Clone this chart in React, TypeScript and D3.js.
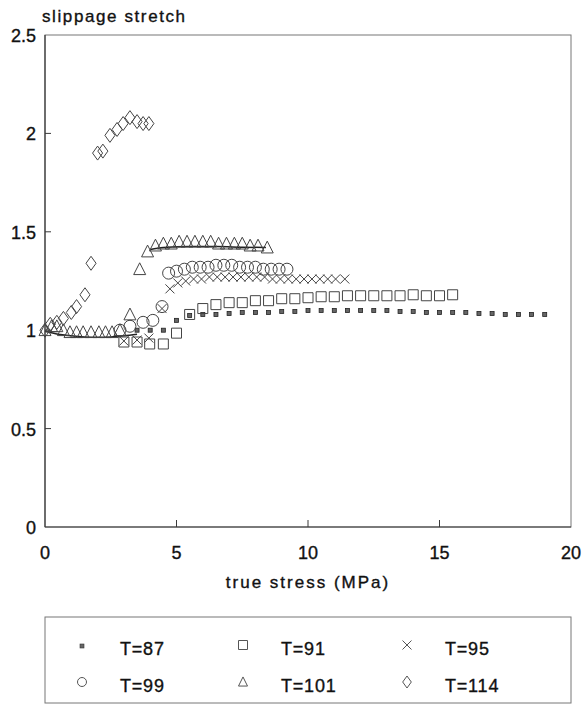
import React from "react";
import * as d3 from "d3";

// T=87 (small filled squares)
const stressT87 = [3.5, 4.0, 4.5, 5.0, 5.5, 6.0, 6.5, 7.0, 7.5, 8.0, 8.5, 9.0, 9.5, 10.0, 10.5, 11.0, 11.5, 12.0, 12.5, 13.0, 13.5, 14.0, 14.5, 15.0, 15.5, 16.0, 16.5, 17.0, 17.5, 18.0, 18.5, 19.0];
const stretchT87 = [1.0, 1.0, 1.0, 1.05, 1.075, 1.08, 1.08, 1.085, 1.09, 1.09, 1.09, 1.095, 1.095, 1.1, 1.1, 1.1, 1.1, 1.1, 1.1, 1.1, 1.095, 1.095, 1.09, 1.09, 1.09, 1.09, 1.085, 1.085, 1.08, 1.08, 1.08, 1.08];

// T=91 (squares)
const stressT91 = [3.0, 3.5, 3.98, 4.5, 5.0, 5.5, 6.0, 6.5, 7.0, 7.5, 8.0, 8.5, 9.0, 9.5, 10.0, 10.5, 11.0, 11.5, 12.0, 12.5, 13.0, 13.5, 14.0, 14.5, 15.0, 15.5];
const stretchT91 = [0.94, 0.94, 0.93, 0.93, 0.985, 1.08, 1.11, 1.13, 1.14, 1.14, 1.15, 1.15, 1.16, 1.16, 1.165, 1.17, 1.17, 1.175, 1.175, 1.175, 1.175, 1.175, 1.18, 1.175, 1.175, 1.18];

// T=95 (crosses)
const stressT95 = [3.0, 3.5, 3.95, 4.45, 4.75, 5.05, 5.35, 5.65, 5.95, 6.25, 6.55, 6.85, 7.15, 7.45, 7.75, 8.05, 8.35, 8.65, 8.95, 9.25, 9.55, 9.85, 10.15, 10.45, 10.75, 11.05, 11.4];
const stretchT95 = [0.945, 0.95, 0.96, 1.11, 1.21, 1.24, 1.25, 1.26, 1.26, 1.27, 1.27, 1.27, 1.27, 1.27, 1.27, 1.27, 1.27, 1.26, 1.26, 1.26, 1.26, 1.26, 1.26, 1.26, 1.26, 1.26, 1.26];

// T=99 (circles)
const stressT99 = [2.85, 3.23, 3.73, 4.1, 4.45, 4.7, 5.0, 5.3, 5.6, 5.9, 6.2, 6.5, 6.8, 7.1, 7.4, 7.7, 8.0, 8.3, 8.6, 8.9, 9.2];
const stretchT99 = [1.0, 1.02, 1.04, 1.05, 1.12, 1.29, 1.3, 1.31, 1.32, 1.32, 1.32, 1.33, 1.33, 1.33, 1.32, 1.32, 1.32, 1.31, 1.31, 1.31, 1.31];

// T=101 (triangles)
const stressT101 = [0, 0.25, 0.45, 0.7, 0.95, 1.2, 1.45, 1.75, 2.05, 2.3, 2.55, 2.85, 3.23, 3.6, 3.9, 4.2, 4.5, 4.8, 5.1, 5.4, 5.7, 6.0, 6.3, 6.6, 6.9, 7.2, 7.5, 7.8, 8.1, 8.45];
const stretchT101 = [1.0, 1.02, 1.02, 1.0, 0.99, 0.99, 0.99, 0.99, 0.99, 0.99, 0.99, 1.0, 1.08, 1.31, 1.4, 1.43, 1.44, 1.44, 1.45, 1.45, 1.45, 1.45, 1.45, 1.44, 1.44, 1.44, 1.44, 1.43, 1.43, 1.42];

// T=101 fitted curve (two branches)
const fitStressLow = [0, 0.5, 1.0, 1.5, 2.0, 2.5, 3.0, 3.5];
const fitStretchLow = [0.995, 0.98, 0.972, 0.966, 0.964, 0.966, 0.972, 0.98];
const fitStressHigh = [4.0, 4.5, 5.5, 6.5, 7.5, 8.4];
const fitStretchHigh = [1.41, 1.42, 1.425, 1.425, 1.422, 1.42];

// T=114 (diamonds)
const stressT114 = [0, 0.2, 0.45, 0.7, 1.0, 1.2, 1.52, 1.75, 2.0, 2.2, 2.47, 2.74, 2.97, 3.23, 3.5, 3.73, 3.95];
const stretchT114 = [1.0, 1.03, 1.04, 1.06, 1.09, 1.12, 1.18, 1.34, 1.9, 1.91, 1.99, 2.02, 2.05, 2.08, 2.06, 2.05, 2.05];

const xTicks = [0, 5, 10, 15, 20];
const yTicks = [0, 0.5, 1, 1.5, 2, 2.5];
const yTickLabels = ["0", "0.5", "1", "1.5", "2", "2.5"];

const seriesLabels = ["T=87", "T=91", "T=95", "T=99", "T=101", "T=114"];
const seriesShapes = ["dot", "square", "cross", "circle", "triangle", "diamond"];

const W = 584;
const H = 704;
const left = 45;
const right = 571;
const top = 35;
const bottom = 527;
const ink = "#3a3a3a";
const font = "'Liberation Sans', Arial, sans-serif";

function markPath(shape: string, cx: number, cy: number, s: number) {
  const p = d3.path();
  if (shape === "square") {
    p.rect(cx - s / 2, cy - s / 2, s, s);
  } else if (shape === "cross") {
    const h = s / 2;
    p.moveTo(cx - h, cy - h);
    p.lineTo(cx + h, cy + h);
    p.moveTo(cx + h, cy - h);
    p.lineTo(cx - h, cy + h);
  } else if (shape === "circle") {
    p.moveTo(cx + s / 2, cy);
    p.arc(cx, cy, s / 2, 0, Math.PI * 2);
  } else if (shape === "triangle") {
    const h = s * 0.9;
    p.moveTo(cx, cy - h / 2 - 1);
    p.lineTo(cx + s / 2, cy + h / 2);
    p.lineTo(cx - s / 2, cy + h / 2);
    p.closePath();
  } else if (shape === "diamond") {
    const w = s * 0.36;
    const h = s * 0.5;
    p.moveTo(cx, cy - h);
    p.lineTo(cx + w, cy);
    p.lineTo(cx, cy + h);
    p.lineTo(cx - w, cy);
    p.closePath();
  }
  return p.toString();
}

export default function App() {
  const x = d3.scaleLinear().domain([0, 20]).range([left, right]);
  const y = d3.scaleLinear().domain([0, 2.5]).range([bottom, top]);

  const series = [
    { shape: "dot", xs: stressT87, ys: stretchT87, size: 4 },
    { shape: "square", xs: stressT91, ys: stretchT91, size: 10 },
    { shape: "cross", xs: stressT95, ys: stretchT95, size: 9 },
    { shape: "circle", xs: stressT99, ys: stretchT99, size: 12 },
    { shape: "triangle", xs: stressT101, ys: stretchT101, size: 12 },
    { shape: "diamond", xs: stressT114, ys: stretchT114, size: 14 },
  ];

  const lowFit = d3
    .line<number>()
    .x((d) => x(d))
    .y((d, i) => y(fitStretchLow[i]))
    .curve(d3.curveMonotoneX)(fitStressLow);
  const highFit = d3
    .line<number>()
    .x((d) => x(d))
    .y((d, i) => y(fitStretchHigh[i]))
    .curve(d3.curveMonotoneX)(fitStressHigh);

  const legendCols = [82, 243, 407];
  const legendRows = [648, 685];
  const textStyle = { fontFamily: font, fill: "#111", stroke: "#111", strokeWidth: 0.35 };

  return (
    <div style={{ position: "absolute", left: 0, top: 0 }}>
      <svg width={W} height={H} style={{ display: "block", background: "#fff" }}>
        {/* frame */}
        <rect x={left} y={top} width={right - left} height={bottom - top} fill="none" stroke="#777" strokeWidth={1} />
        <line x1={left} x2={left} y1={top} y2={bottom} stroke={ink} strokeWidth={1.2} />
        <line x1={left} x2={right} y1={bottom} y2={bottom} stroke={ink} strokeWidth={1.2} />

        {/* y ticks */}
        {yTicks.map((t, i) => (
          <g key={"y" + t}>
            {t > 0 && t < 2.5 && (
              <line x1={left} x2={left + 6} y1={y(t)} y2={y(t)} stroke={ink} strokeWidth={1} />
            )}
            <text x={left - 9} y={y(t) + 7} textAnchor="end" fontSize={18} {...textStyle}>
              {yTickLabels[i]}
            </text>
          </g>
        ))}

        {/* x ticks */}
        {xTicks.map((t) => (
          <g key={"x" + t}>
            {t > 0 && t < 20 && (
              <line x1={x(t)} x2={x(t)} y1={bottom} y2={bottom - 7} stroke={ink} strokeWidth={1} />
            )}
            <text x={x(t)} y={bottom + 32} textAnchor="middle" fontSize={18} {...textStyle}>
              {t}
            </text>
          </g>
        ))}

        <text x={42} y={22} fontSize={17} letterSpacing={1.6} {...textStyle}>
          slippage stretch
        </text>
        <text x={(left + right) / 2} y={588} textAnchor="middle" fontSize={17} letterSpacing={2} {...textStyle}>
          true stress (MPa)
        </text>

        {/* fitted curve for T=101 */}
        <path d={lowFit || ""} fill="none" stroke="#222" strokeWidth={1.5} />
        <path d={highFit || ""} fill="none" stroke="#222" strokeWidth={1.5} />

        {/* data marks */}
        {series.map((s) => (
          <g key={s.shape}>
            {s.xs.map((v, i) =>
              s.shape === "dot" ? (
                <rect
                  key={i}
                  x={x(v) - s.size / 2}
                  y={y(s.ys[i]) - s.size / 2}
                  width={s.size}
                  height={s.size}
                  fill="#666"
                  stroke="#222"
                  strokeWidth={0.8}
                />
              ) : (
                <path
                  key={i}
                  d={markPath(s.shape, x(v), y(s.ys[i]), s.size)}
                  fill="none"
                  stroke="#444"
                  strokeWidth={1}
                />
              )
            )}
          </g>
        ))}

        {/* legend */}
        <rect x={45} y={617} width={526} height={86} fill="none" stroke="#777" strokeWidth={1} />
        {seriesLabels.map((label, i) => {
          const cx = legendCols[i % 3];
          const cy = legendRows[Math.floor(i / 3)];
          const shape = seriesShapes[i];
          return (
            <g key={label}>
              {shape === "dot" ? (
                <rect x={cx - 2} y={cy - 4} width={4} height={4} fill="#666" stroke="#333" strokeWidth={0.6} />
              ) : (
                <path d={markPath(shape, cx, cy - 3, shape === "diamond" ? 12 : 9)} fill="none" stroke="#555" strokeWidth={1} />
              )}
              <text x={cx + 38} y={cy + 7} fontSize={18} letterSpacing={0.8} {...textStyle}>
                {label}
              </text>
            </g>
          );
        })}
      </svg>
    </div>
  );
}
